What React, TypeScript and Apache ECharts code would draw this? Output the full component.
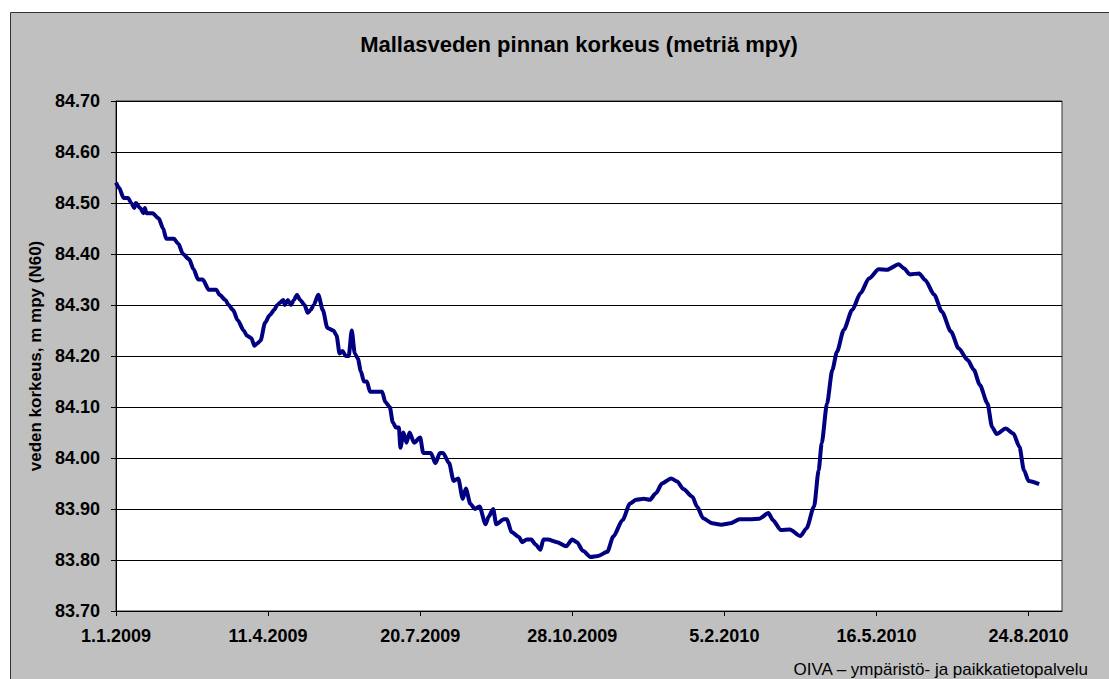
import React, { useEffect, useRef } from "react";
import * as echarts from "echarts";

// Days counted from 1.1.2009
const days: number[] = [
  0, 2, 5, 8, 10, 12, 13, 16, 18, 19, 20, 24, 28, 31, 33, 38, 41, 44, 48, 51,
  54, 57, 61, 66, 68, 72, 74, 77, 80, 84, 86, 89, 91, 93, 95, 98, 101, 104, 106, 108,
  110, 111, 113, 115, 117, 119, 121, 124, 126, 128, 130, 133, 136, 139, 143, 145, 147, 149, 151, 153,
  155, 157, 159, 161, 163, 165, 167, 170, 175, 177, 180, 182, 184, 186, 187, 189, 191, 193, 196, 200,
  202, 207, 210, 213, 215, 219, 222, 225, 228, 230, 233, 236, 239, 243, 245, 248, 250, 255, 257, 260,
  265, 267, 270, 273, 276, 279, 281, 284, 290, 296, 300, 303, 307, 312, 317, 323, 327, 333, 338, 342,
  347, 351, 355, 359, 365, 369, 373, 379, 382, 386, 392, 398, 404, 410, 417, 423, 429, 432, 437, 443,
  450, 454, 459, 462, 464, 467.5, 471, 474, 478.5, 484, 489.5, 495, 501.5, 507, 514.7, 518, 522, 528, 532, 538,
  543, 549, 554, 560, 564, 568, 573, 576, 579, 585, 590, 594, 597, 600, 607,
];

const levels: number[] = [
  84.54, 84.53, 84.51, 84.51, 84.5, 84.49, 84.5, 84.49, 84.48, 84.49, 84.48, 84.48, 84.47, 84.45, 84.43, 84.43, 84.42, 84.4, 84.39, 84.37,
  84.35, 84.35, 84.33, 84.33, 84.32, 84.31, 84.3, 84.29, 84.27, 84.25, 84.24, 84.235, 84.22, 84.225, 84.23, 84.265, 84.28, 84.29, 84.3, 84.305,
  84.31, 84.3, 84.31, 84.3, 84.31, 84.32, 84.31, 84.3, 84.285, 84.29, 84.3, 84.32, 84.29, 84.255, 84.25, 84.24, 84.205, 84.21, 84.2, 84.2,
  84.25, 84.205, 84.195, 84.17, 84.15, 84.15, 84.13, 84.13, 84.13, 84.11, 84.1, 84.07, 84.06, 84.06, 84.02, 84.05, 84.03, 84.05, 84.03, 84.04,
  84.01, 84.01, 83.99, 84.01, 84.01, 83.99, 83.955, 83.96, 83.92, 83.94, 83.91, 83.9, 83.905, 83.87, 83.885, 83.9, 83.87, 83.88, 83.88, 83.855,
  83.845, 83.835, 83.84, 83.84, 83.83, 83.82, 83.84, 83.84, 83.835, 83.827, 83.84, 83.835, 83.818, 83.806, 83.808, 83.816, 83.846, 83.878, 83.911, 83.918,
  83.92, 83.918, 83.931, 83.95, 83.96, 83.954, 83.939, 83.924, 83.905, 83.882, 83.872, 83.869, 83.872, 83.88, 83.88, 83.881, 83.892, 83.878, 83.859, 83.86,
  83.847, 83.862, 83.905, 83.976, 84.029, 84.107, 84.173, 84.208, 84.251, 84.29, 84.323, 84.352, 84.37, 84.369, 84.38, 84.372, 84.36, 84.362, 84.349, 84.32,
  84.287, 84.248, 84.215, 84.192, 84.173, 84.143, 84.107, 84.061, 84.047, 84.058, 84.048, 84.022, 83.976, 83.955, 83.949,
];

const xTickDays: number[] = [0, 100, 200, 300, 400, 500, 600];
const xMaxDay = 622;
const yMin = 83.7;
const yMax = 84.7;
const yStep = 0.1;

const titleText = "Mallasveden pinnan korkeus (metriä mpy)";
const yAxisTitle = "veden korkeus, m mpy (N60)";
const footerText = "OIVA – ympäristö- ja paikkatietopalvelu";

const START = Date.UTC(2009, 0, 1);
function dayLabel(d: number): string {
  const dt = new Date(START + Math.round(d) * 86400000);
  return `${dt.getUTCDate()}.${dt.getUTCMonth() + 1}.${dt.getUTCFullYear()}`;
}

const FONT = "'Liberation Sans', Arial, sans-serif";

export default function App() {
  const ref = useRef<HTMLDivElement>(null);
  useEffect(() => {
    if (!ref.current) return;
    const chart = echarts.init(ref.current, null, { renderer: "svg" });
    const data = days.map((d, i) => [d, levels[i]]);
    chart.setOption({
      animation: false,
      backgroundColor: "#ffffff",
      textStyle: { fontFamily: FONT },
      graphic: [
        {
          type: "rect",
          z: -100,
          silent: true,
          shape: { x: 10.5, y: 12.5, width: 1200, height: 800 },
          style: { fill: "#C0C0C0", stroke: "#333333", lineWidth: 1 },
        },
        {
          type: "text",
          x: 579,
          y: 44,
          silent: true,
          style: {
            text: titleText,
            fill: "#000",
            font: `bold 22px ${FONT}`,
            textAlign: "center",
            textVerticalAlign: "middle",
          },
        },
        {
          type: "text",
          x: 1088,
          y: 669,
          silent: true,
          style: {
            text: footerText,
            fill: "#000",
            font: `17px ${FONT}`,
            textAlign: "right",
            textVerticalAlign: "middle",
          },
        },
      ],
      grid: {
        left: 116,
        top: 101,
        width: 946,
        height: 510,
        show: true,
        backgroundColor: "#ffffff",
        borderColor: "#333333",
        borderWidth: 1,
      },
      xAxis: {
        type: "value",
        min: 0,
        max: xMaxDay,
        interval: 100,
        axisLine: { show: true, onZero: false, lineStyle: { color: "#000", width: 1 } },
        axisTick: {
          show: true,
          length: 5,
          inside: false,
          customValues: xTickDays,
          lineStyle: { color: "#000" },
        },
        axisLabel: {
          customValues: xTickDays,
          formatter: (v: number) => dayLabel(v),
          fontFamily: FONT,
          fontWeight: "bold",
          fontSize: 18,
          color: "#000",
          margin: 16,
        },
        splitLine: { show: false },
      },
      yAxis: {
        type: "value",
        min: yMin,
        max: yMax,
        interval: yStep,
        name: yAxisTitle,
        nameLocation: "middle",
        nameGap: 72,
        nameRotate: 90,
        nameTextStyle: { fontFamily: FONT, fontWeight: "bold", fontSize: 17, color: "#000" },
        axisLine: { show: true, lineStyle: { color: "#000", width: 1 } },
        axisTick: { show: true, length: 5, inside: false, lineStyle: { color: "#000" } },
        axisLabel: {
          formatter: (v: number) => v.toFixed(2),
          fontFamily: FONT,
          fontWeight: "bold",
          fontSize: 18,
          color: "#000",
          margin: 16,
        },
        splitLine: { show: true, lineStyle: { color: "#000", width: 1 } },
      },
      series: [
        {
          type: "line",
          data,
          showSymbol: false,
          symbol: "none",
          smooth: 0.25,
          smoothMonotone: "x",
          lineStyle: { color: "#000080", width: 4 },
          z: 5,
        },
      ],
    });
    return () => chart.dispose();
  }, []);
  return (
    <div
      ref={ref}
      style={{ position: "absolute", left: 0, top: 0, width: 1109, height: 679 }}
    />
  );
}
